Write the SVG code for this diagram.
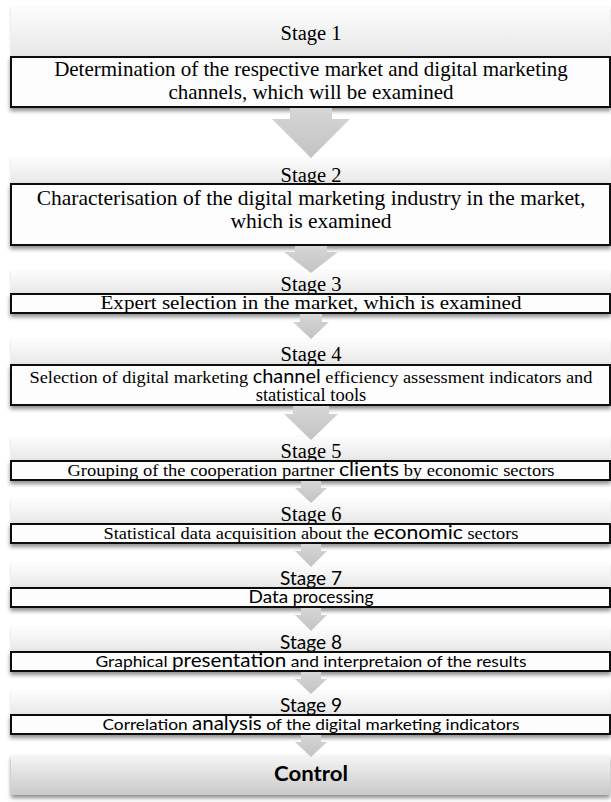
<svg xmlns="http://www.w3.org/2000/svg" width="611" height="802" viewBox="0 0 611 802">
<defs>
<linearGradient id="gHead" x1="0" y1="0" x2="0" y2="1">
<stop offset="0" stop-color="#fdfdfd"/>
<stop offset="1" stop-color="#e7e7e7"/>
</linearGradient>
<linearGradient id="gCtrl" x1="0" y1="0" x2="0" y2="1">
<stop offset="0" stop-color="#f6f6f6"/>
<stop offset="1" stop-color="#c9c9c9"/>
</linearGradient>
<linearGradient id="gArrow" x1="0" y1="0" x2="0" y2="1">
<stop offset="0" stop-color="#d6d6d6"/>
<stop offset="1" stop-color="#c3c3c3"/>
</linearGradient>
<filter id="shadow" x="-5%" y="-30%" width="110%" height="170%">
<feGaussianBlur in="SourceAlpha" stdDeviation="2"/>
<feOffset dx="0" dy="3" result="b"/>
<feComponentTransfer><feFuncA type="linear" slope="0.45"/></feComponentTransfer>
<feMerge><feMergeNode/><feMergeNode in="SourceGraphic"/></feMerge>
</filter>
<filter id="soft" x="-5%" y="-30%" width="110%" height="170%">
<feGaussianBlur in="SourceAlpha" stdDeviation="1.5"/>
<feOffset dx="0" dy="1" result="b"/>
<feComponentTransfer><feFuncA type="linear" slope="0.18"/></feComponentTransfer>
<feMerge><feMergeNode/><feMergeNode in="SourceGraphic"/></feMerge>
</filter>
</defs>
<style>
.head{fill:url(#gHead);filter:url(#soft)}
.box{fill:#fdfdfd;stroke:#111;stroke-width:2;filter:url(#shadow)}
.ctrl{fill:url(#gCtrl);filter:url(#shadow)}
.arrow{fill:url(#gArrow)}
.serif{font-family:"Liberation Serif","Times New Roman",serif;fill:#000;text-anchor:middle}
.sans{font-family:Lato,"Liberation Sans",sans-serif;fill:#000;text-anchor:middle}
.lbl{font-size:20.5px}
.big{font-size:21px}
</style>

<g id="stage1">
<rect class="head" x="11" y="7" width="599" height="50"/>
<text class="serif lbl" x="311" y="40">Stage 1</text>
<rect class="box" x="11" y="57" width="599" height="50"/>
<text class="serif big" x="311" y="76">Determination of the respective market and digital marketing</text>
<text class="serif big" x="311" y="99">channels, which will be examined</text>
</g>

<g id="stage2">
<rect class="head" x="11" y="157" width="599" height="27"/>
<text class="serif lbl" x="311" y="182">Stage 2</text>
<rect class="box" x="11" y="184" width="599" height="61"/>
<text class="serif" x="311" y="205" font-size="21.5">Characterisation of the digital marketing industry in the market,</text>
<text class="serif" x="311" y="228" font-size="21.5">which is examined</text>
</g>

<g id="stage3">
<rect class="head" x="11" y="271" width="599" height="23"/>
<text class="serif lbl" x="311" y="291">Stage 3</text>
<rect class="box" x="11" y="294" width="599" height="19"/>
<text class="serif" x="311" y="309" font-size="18" textLength="421" lengthAdjust="spacingAndGlyphs">Expert selection in the market, which is examined</text>
</g>

<g id="stage4">
<rect class="head" x="11" y="340" width="599" height="25"/>
<text class="serif lbl" x="311" y="361">Stage 4</text>
<rect class="box" x="11" y="365" width="599" height="40"/>
<text class="serif" x="311" y="383" font-size="17.5" textLength="563" lengthAdjust="spacingAndGlyphs">Selection of digital marketing <tspan class="sans" font-size="19">channel</tspan> efficiency assessment indicators and</text>
<text class="serif" x="311" y="401" font-size="18.5">statistical tools</text>
</g>

<g id="stage5">
<rect class="head" x="11" y="437" width="599" height="24"/>
<text class="serif lbl" x="311" y="458">Stage 5</text>
<rect class="box" x="11" y="461" width="599" height="19"/>
<text class="serif" x="311" y="476" font-size="16.5" textLength="487" lengthAdjust="spacingAndGlyphs">Grouping of the cooperation partner <tspan class="sans" font-size="19">clients</tspan> by economic sectors</text>
</g>

<g id="stage6">
<rect class="head" x="11" y="500" width="599" height="24"/>
<text class="serif lbl" x="311" y="521">Stage 6</text>
<rect class="box" x="11" y="524" width="599" height="19"/>
<text class="serif" x="311" y="539" font-size="16.5" textLength="415" lengthAdjust="spacingAndGlyphs">Statistical data acquisition about the <tspan class="sans" font-size="19">economic</tspan> sectors</text>
</g>

<g id="stage7">
<rect class="head" x="11" y="564" width="599" height="24"/>
<text class="sans" x="311" y="585" font-size="20" textLength="62" lengthAdjust="spacingAndGlyphs">Stage 7</text>
<rect class="box" x="11" y="588" width="599" height="19"/>
<text class="sans" x="311" y="603" font-size="16.5" textLength="125" lengthAdjust="spacingAndGlyphs"><tspan font-size="18">Data</tspan> processing</text>
</g>

<g id="stage8">
<rect class="head" x="11" y="628" width="599" height="24"/>
<text class="sans" x="311" y="649" font-size="20" textLength="62" lengthAdjust="spacingAndGlyphs">Stage 8</text>
<rect class="box" x="11" y="652" width="599" height="19"/>
<text class="sans" x="311" y="667" font-size="16" textLength="431" lengthAdjust="spacingAndGlyphs">Graphical <tspan font-size="19">presentation</tspan> and interpretaion of the results</text>
</g>

<g id="stage9">
<rect class="head" x="11" y="691" width="599" height="24"/>
<text class="sans" x="311" y="712" font-size="20" textLength="62" lengthAdjust="spacingAndGlyphs">Stage 9</text>
<rect class="box" x="11" y="715" width="599" height="19"/>
<text class="sans" x="311" y="730" font-size="16" textLength="417" lengthAdjust="spacingAndGlyphs">Correlation <tspan font-size="19">analysis</tspan> of the digital marketing indicators</text>
</g>

<g id="control">
<rect class="ctrl" x="11" y="755" width="599" height="40"/>
<text class="sans" x="311" y="781" font-size="21" font-weight="bold" textLength="74" lengthAdjust="spacingAndGlyphs">Control</text>
</g>

<g id="connectors">
<polygon class="arrow" points="290,108 332,108 332,119 350,119 311,158 272,119 290,119"/>
<polygon class="arrow" points="295,246 327,246 327,252 338,252 311,273 284,252 295,252"/>
<polygon class="arrow" points="300,314 322,314 322,322 329,322 311,339 293,322 300,322"/>
<polygon class="arrow" points="293,406 329,406 329,414 338,414 311,440 284,414 293,414"/>
<polygon class="arrow" points="301,481 321,481 321,488 327,488 311,503 295,488 301,488"/>
<polygon class="arrow" points="301,544 321,544 321,551 327,551 311,567 295,551 301,551"/>
<polygon class="arrow" points="301,608 321,608 321,615 327,615 311,631 295,615 301,615"/>
<polygon class="arrow" points="301,672 321,672 321,679 327,679 311,694 295,679 301,679"/>
<polygon class="arrow" points="301,735 321,735 321,742 327,742 311,757 295,742 301,742"/>
</g>
</svg>
